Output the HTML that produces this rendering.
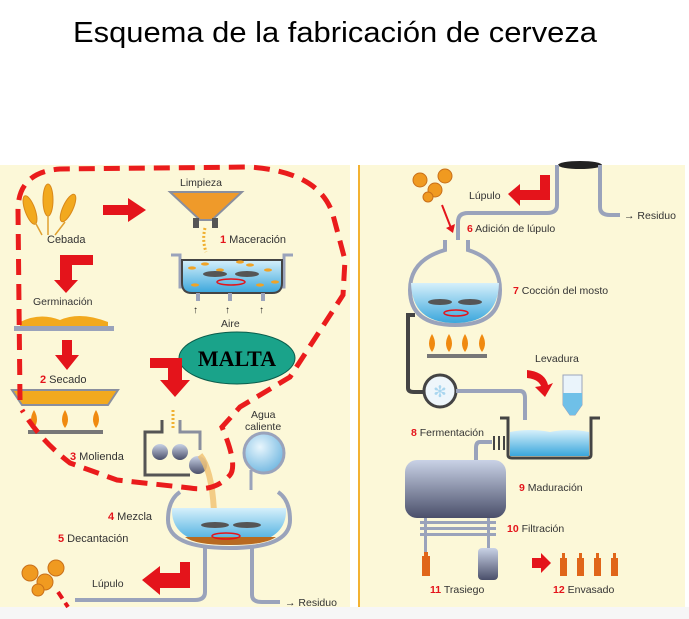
<!DOCTYPE html>
<html><head><meta charset="utf-8"><style>
html,body{margin:0;padding:0;background:#fff;}
svg{display:block;}
text{font-family:"Liberation Sans",sans-serif;}
</style></head><body>
<svg width="689" height="619" viewBox="0 0 689 619" xmlns="http://www.w3.org/2000/svg">
<defs>
<linearGradient id="wat" x1="0" y1="0" x2="0" y2="1"><stop offset="0" stop-color="#d6f0fb"/><stop offset="1" stop-color="#3aa6dc"/></linearGradient>
<linearGradient id="met" x1="0" y1="0" x2="0" y2="1"><stop offset="0" stop-color="#c9d2e6"/><stop offset="1" stop-color="#4a4f6a"/></linearGradient>
<radialGradient id="sph" cx="0.4" cy="0.35" r="0.7"><stop offset="0" stop-color="#e8f6fd"/><stop offset="1" stop-color="#6fb6e0"/></radialGradient>
</defs>
<text x="73" y="42" font-size="29" fill="#000" textLength="524" lengthAdjust="spacingAndGlyphs">Esquema de la fabricación de cerveza</text>
<!-- panels -->
<rect x="0" y="165" width="350" height="442" fill="#fcf8d8"/>
<rect x="358" y="165" width="327" height="442" fill="#fcf8d8"/>
<rect x="358" y="165" width="2" height="442" fill="#f3b233"/>
<rect x="0" y="607" width="689" height="12" fill="#f6f6f6"/>

<!-- LEFT PANEL -->
<!-- wheat -->
<g fill="#f2a91e" stroke="#d9891a" stroke-width="1">
<ellipse cx="30" cy="210" rx="5" ry="15" transform="rotate(-20 30 210)"/>
<ellipse cx="48" cy="200" rx="5" ry="16"/>
<ellipse cx="68" cy="208" rx="5" ry="15" transform="rotate(25 68 208)"/>
</g>
<path d="M35 222 L42 235 M48 215 L48 235 M65 222 L55 235" stroke="#e0a030" stroke-width="1.5"/>
<text x="47" y="243" font-size="11" fill="#333">Cebada</text>
<!-- arrow right -->
<path d="M103 205 H128 V198 L146 210 L128 222 V215 H103 Z" fill="#e4141b"/>
<text x="180" y="186" font-size="10.5" fill="#333">Limpieza</text>
<!-- funnel -->
<path d="M170 192 H242 L212 220 H200 Z" fill="#ef9a2a" stroke="#8a8f9e" stroke-width="2"/>
<rect x="193" y="218" width="6" height="10" fill="#555"/><rect x="212" y="218" width="6" height="10" fill="#555"/>
<path d="M205 228 Q202 240 206 252" stroke="#f0b030" stroke-width="3" stroke-dasharray="2 2" fill="none"/>
<text x="220" y="243" font-size="11" fill="#333"><tspan fill="#e4141b" font-weight="bold">1</tspan> Maceración</text>
<!-- maceration tank -->
<path d="M171 255 H180 V287 H284 V255 H293" stroke="#9aa3bb" stroke-width="3" fill="none"/>
<path d="M182 260 H282 V283 Q282 293 272 293 H192 Q182 293 182 283 Z" fill="url(#wat)" stroke="#444" stroke-width="2"/>
<g fill="#f0a326"><ellipse cx="192" cy="268" rx="4" ry="1.6"/><ellipse cx="205" cy="264" rx="4" ry="1.6"/><ellipse cx="220" cy="270" rx="4" ry="1.6"/><ellipse cx="250" cy="265" rx="4" ry="1.6"/><ellipse cx="268" cy="270" rx="4" ry="1.6"/><ellipse cx="275" cy="282" rx="4" ry="1.6"/><ellipse cx="195" cy="285" rx="4" ry="1.6"/><ellipse cx="260" cy="285" rx="4" ry="1.6"/><ellipse cx="240" cy="262" rx="4" ry="1.6"/></g>
<ellipse cx="215" cy="274" rx="12" ry="3" fill="#555"/><ellipse cx="247" cy="274" rx="12" ry="3" fill="#555"/>
<ellipse cx="231" cy="282" rx="14" ry="3" fill="none" stroke="#e4141b" stroke-width="1.5"/>
<rect x="196" y="293" width="4" height="8" fill="#9aa3bb"/><rect x="228" y="293" width="4" height="8" fill="#9aa3bb"/><rect x="261" y="293" width="4" height="8" fill="#9aa3bb"/>
<text x="193" y="313" font-size="10" fill="#222">↑</text><text x="225" y="313" font-size="10" fill="#222">↑</text><text x="259" y="313" font-size="10" fill="#222">↑</text>
<text x="221" y="327" font-size="10.5" fill="#333">Aire</text>
<!-- bent arrow to germination -->
<path d="M93 255 V265 H72 V280 H78 L66 293 L54 280 H60 V255 Z" fill="#e4141b"/>
<text x="33" y="305" font-size="10.5" fill="#333">Germinación</text>
<path d="M20 322 Q40 312 60 320 Q80 311 108 322 L108 327 H20 Z" fill="#f2a91e"/>
<rect x="14" y="326" width="100" height="5" fill="#9aa3bb"/>
<path d="M62 340 H72 V355 H79 L67 370 L55 355 H62 Z" fill="#e4141b"/>
<text x="40" y="383" font-size="11" fill="#333"><tspan fill="#e4141b" font-weight="bold">2</tspan> Secado</text>
<path d="M12 390 H118 L108 405 H22 Z" fill="#f2a91e" stroke="#8a8f9e" stroke-width="2"/>
<g fill="#f08a10"><path d="M34 428 Q28 420 34 410 Q40 420 34 428Z"/><path d="M65 428 Q59 420 65 410 Q71 420 65 428Z"/><path d="M96 428 Q90 420 96 410 Q102 420 96 428Z"/></g>
<rect x="28" y="430" width="75" height="4" fill="#777"/>
<!-- MALTA -->
<ellipse cx="237" cy="358" rx="58" ry="26" fill="#1aa38a" stroke="#0a5d4c" stroke-width="1"/>
<text x="237" y="366" font-size="22" font-weight="bold" text-anchor="middle" fill="#000" style="font-family:'Liberation Serif',serif">MALTA</text>
<!-- arrow to mill -->
<path d="M150 358 H182 V380 H190 L175 397 L160 380 H168 V368 H150 Z" fill="#e4141b"/>
<!-- mill -->
<path d="M162 420 V432 H145 V475 H190" stroke="#555" stroke-width="3" fill="none"/>
<path d="M180 420 V432 H200 V450" stroke="#8a8f9e" stroke-width="3" fill="none"/>
<circle cx="160" cy="452" r="8" fill="url(#met)"/><circle cx="180" cy="452" r="8" fill="url(#met)"/><circle cx="198" cy="465" r="9" fill="url(#met)"/>
<path d="M173 410 V428" stroke="#f0b030" stroke-width="3" stroke-dasharray="2 2"/>
<path d="M200 455 Q212 470 214 512" stroke="#f0c070" stroke-width="6" fill="none" opacity="0.8"/>
<text x="70" y="460" font-size="11" fill="#333"><tspan fill="#e4141b" font-weight="bold">3</tspan> Molienda</text>
<text x="251" y="418" font-size="10.5" fill="#333">Agua</text>
<text x="245" y="430" font-size="10.5" fill="#333">caliente</text>
<circle cx="264" cy="453" r="20" fill="url(#sph)" stroke="#9aa3bb" stroke-width="3"/>
<path d="M251 470 V490" stroke="#9aa3bb" stroke-width="3"/>
<!-- mix tank -->
<path d="M180 492 Q168 500 168 520 Q168 548 230 548 Q290 548 290 520 Q290 500 278 492" stroke="#9aa3bb" stroke-width="4" fill="none"/>
<path d="M172 508 H286 Q288 545 230 545 Q170 545 172 508Z" fill="url(#wat)"/>
<path d="M185 537 H276 Q265 545 230 545 Q195 545 185 537Z" fill="#b86a20"/>
<ellipse cx="215" cy="525" rx="14" ry="3" fill="#555"/><ellipse cx="247" cy="525" rx="14" ry="3" fill="#555"/>
<ellipse cx="226" cy="536" rx="14" ry="3" fill="none" stroke="#e4141b" stroke-width="1.5"/>
<text x="108" y="520" font-size="11" fill="#333"><tspan fill="#e4141b" font-weight="bold">4</tspan> Mezcla</text>
<text x="58" y="542" font-size="11" fill="#333"><tspan fill="#e4141b" font-weight="bold">5</tspan> Decantación</text>
<!-- hops -->
<g fill="#f09a20" stroke="#c8701a"><circle cx="30" cy="573" r="8"/><circle cx="45" cy="582" r="8"/><circle cx="56" cy="568" r="8"/><circle cx="38" cy="590" r="6"/></g>
<text x="92" y="587" font-size="10.5" fill="#333">Lúpulo</text>
<path d="M180 562 H190 V588 H160 V595 L142 580 L160 566 V573 H180 Z" fill="#e4141b"/>
<path d="M205 548 V592 Q205 600 195 600 H75" stroke="#9aa3bb" stroke-width="4" fill="none"/>
<path d="M252 548 V595 Q252 602 262 602 H280" stroke="#9aa3bb" stroke-width="4" fill="none"/>
<path d="M58 592 L68 607" stroke="#e4141b" stroke-width="4" stroke-dasharray="8 5"/>
<text x="285" y="606" font-size="10.5" fill="#333">→ Residuo</text>
<!-- dashed loop -->
<path d="M20 400 L18 210 Q18 172 60 169 L250 167 Q320 172 333 215 L345 260 L343 295 L290 377 L240 407 L222 427 Q238 465 230 475 Q215 492 190 488 L117 480 L70 463 Q40 440 22 410" stroke="#ea1c1c" stroke-width="5" fill="none" stroke-dasharray="16 9"/>

<!-- RIGHT PANEL -->
<path d="M557 165 Q580 170 600 165 Z" fill="#222"/>
<ellipse cx="580" cy="165" rx="22" ry="4" fill="#222"/>
<path d="M557 165 V205 Q557 213 547 213 H468 Q458 213 458 222 V240" stroke="#9aa3bb" stroke-width="4" fill="none"/>
<path d="M600 165 V207 Q600 215 610 215 H620" stroke="#9aa3bb" stroke-width="4" fill="none"/>
<text x="624" y="219" font-size="10.5" fill="#333">→ Residuo</text>
<g fill="#f09a20" stroke="#c8701a"><circle cx="420" cy="180" r="7"/><circle cx="435" cy="190" r="7"/><circle cx="445" cy="176" r="7"/><circle cx="428" cy="197" r="5"/></g>
<path d="M442 205 L451 228" stroke="#e4141b" stroke-width="2"/><path d="M446 228 L453 233 L455 224Z" fill="#e4141b"/>
<text x="469" y="199" font-size="10.5" fill="#333">Lúpulo</text>
<path d="M540 175 H550 V200 H520 V206 L508 194 L520 184 V190 H540 Z" fill="#e4141b"/>
<text x="467" y="232" font-size="10.5" fill="#333"><tspan fill="#e4141b" font-weight="bold">6</tspan> Adición de lúpulo</text>
<!-- boil sphere -->
<path d="M445 240 V250 Q410 260 410 290 Q410 325 455 325 Q500 325 500 290 Q500 260 468 250 V240" stroke="#9aa3bb" stroke-width="4" fill="#fcf8d8"/>
<path d="M411 283 H499 Q498 323 455 323 Q412 323 411 283Z" fill="url(#wat)"/>
<ellipse cx="440" cy="302" rx="12" ry="3" fill="#555"/><ellipse cx="470" cy="302" rx="12" ry="3" fill="#555"/>
<ellipse cx="456" cy="313" rx="12" ry="3" fill="none" stroke="#e4141b" stroke-width="1.5"/>
<text x="513" y="294" font-size="10.5" fill="#333"><tspan fill="#e4141b" font-weight="bold">7</tspan> Cocción del mosto</text>
<g fill="#f08a10"><path d="M432 352 Q426 344 432 334 Q438 344 432 352Z"/><path d="M449 352 Q443 344 449 334 Q455 344 449 352Z"/><path d="M465 352 Q459 344 465 334 Q471 344 465 352Z"/><path d="M482 352 Q476 344 482 334 Q488 344 482 352Z"/></g>
<rect x="427" y="354" width="60" height="4" fill="#777"/>
<!-- pipe to cooler -->
<path d="M415 315 H408 V388 Q408 392 414 392 H425" stroke="#444" stroke-width="4" fill="none"/>
<circle cx="440" cy="391" r="16" fill="#eef6fb" stroke="#444" stroke-width="3"/>
<text x="440" y="397" font-size="16" fill="#a9d6ef" text-anchor="middle">✻</text>
<path d="M456 391 H520 Q525 391 525 398 V420" stroke="#9aa3bb" stroke-width="4" fill="none"/>
<text x="535" y="362" font-size="10.5" fill="#333">Levadura</text>
<path d="M527 370 Q545 372 548 385 L553 383 L545 397 L535 387 L541 386 Q538 379 527 378Z" fill="#e4141b"/>
<path d="M563 375 H582 V405 L575 415 H570 L563 405 Z" fill="#eaf4fb" stroke="#9aa3bb"/>
<path d="M563 393 H582 V405 L575 415 H570 L563 405 Z" fill="#6fc0e8"/>
<!-- fermentation tank -->
<path d="M500 418 H508 V455 Q508 458 512 458 H587 Q591 458 591 455 V418 H600" stroke="#444" stroke-width="3" fill="none"/>
<path d="M510 432 Q530 428 550 432 Q570 428 589 432 V456 H510Z" fill="url(#wat)"/>
<text x="411" y="436" font-size="10.5" fill="#333"><tspan fill="#e4141b" font-weight="bold">8</tspan> Fermentación</text>
<path d="M492 442 H480 Q476 442 476 448 V460" stroke="#9aa3bb" stroke-width="4" fill="none"/>
<rect x="493" y="436" width="2" height="14" fill="#444"/><rect x="498" y="436" width="2" height="14" fill="#444"/><rect x="503" y="436" width="2" height="14" fill="#444"/>
<!-- maduracion -->
<rect x="405" y="460" width="101" height="58" rx="12" fill="url(#met)"/>
<text x="519" y="491" font-size="10.5" fill="#333"><tspan fill="#e4141b" font-weight="bold">9</tspan> Maduración</text>
<g fill="#9aa3bb"><rect x="420" y="521" width="76" height="3"/><rect x="420" y="527" width="76" height="3"/><rect x="420" y="533" width="76" height="3"/></g>
<rect x="424" y="518" width="3" height="38" fill="#9aa3bb"/><rect x="487" y="518" width="3" height="30" fill="#9aa3bb"/>
<text x="507" y="532" font-size="10.5" fill="#333"><tspan fill="#e4141b" font-weight="bold">10</tspan> Filtración</text>
<path d="M422 556 H430 V576 H422Z M424 552 H428 V556 H424Z" fill="#e0661a"/>
<rect x="478" y="548" width="20" height="32" rx="4" fill="url(#met)"/>
<text x="430" y="593" font-size="10.5" fill="#333"><tspan fill="#e4141b" font-weight="bold">11</tspan> Trasiego</text>
<path d="M532 558 H541 V553 L551 563 L541 573 V568 H532Z" fill="#e4141b"/>
<g fill="#e0661a"><path d="M560 558 H567 V576 H560Z M562 553 H565 V558 H562Z"/><path d="M577 558 H584 V576 H577Z M579 553 H582 V558 H579Z"/><path d="M594 558 H601 V576 H594Z M596 553 H599 V558 H596Z"/><path d="M611 558 H618 V576 H611Z M613 553 H616 V558 H613Z"/></g>
<text x="553" y="593" font-size="10.5" fill="#333"><tspan fill="#e4141b" font-weight="bold">12</tspan> Envasado</text>
</svg>
</body></html>
